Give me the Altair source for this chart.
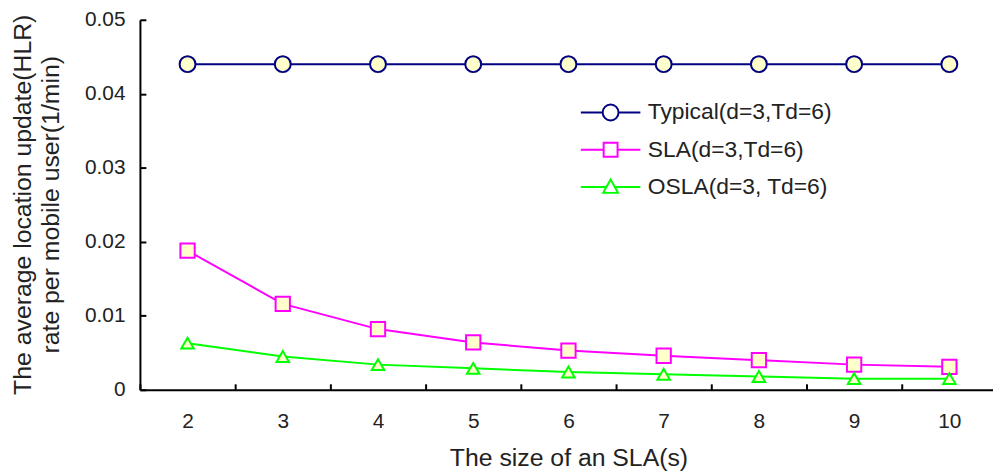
import altair as alt
import pandas as pd

# ---- data ----
sla_sizes = [2, 3, 4, 5, 6, 7, 8, 9, 10]
series_names = ["Typical(d=3,Td=6)", "SLA(d=3,Td=6)", "OSLA(d=3, Td=6)"]
typical_rate = [0.044, 0.044, 0.044, 0.044, 0.044, 0.044, 0.044, 0.044, 0.044]
sla_rate = [0.0188, 0.0116, 0.0082, 0.0064, 0.0053, 0.0046, 0.0040, 0.0034, 0.0031]
osla_rate = [0.0063, 0.0045, 0.0034, 0.0029, 0.0024, 0.0021, 0.0018, 0.0015, 0.0015]
y_ticks = [0, 0.01, 0.02, 0.03, 0.04, 0.05]

# ---- styling ----
series_colors = ["#000080", "#ff00ff", "#00ff00"]
marker_shapes = ["circle", "square", "triangle-up"]
marker_sizes = [256, 160, 170]
marker_fill = "#ffffcc"
FONT = "Liberation Sans"
TEXT = "#222222"

# legend symbols: a line segment with the marker in the middle (unit = 10px)
legend_paths = [
    "M-3,0H-0.8M0.8,0H3M-0.8,0A0.8,0.8,0,1,1,0.8,0A0.8,0.8,0,1,1,-0.8,0Z",
    "M-3,0H-0.7M0.7,0H3M-0.7,-0.7H0.7V0.7H-0.7Z",
    "M-3,0H-0.42M0.42,0H3M0,-0.75L0.75,0.6L-0.75,0.6Z",
]

rows = []
for name, vals in zip(series_names, [typical_rate, sla_rate, osla_rate]):
    for s, v in zip(sla_sizes, vals):
        rows.append({"size": s, "rate": v, "series": name})
df = pd.DataFrame(rows)

x_enc = alt.X(
    "size:O",
    title="The size of an SLA(s)",
    bandPosition=0.5,
    scale=alt.Scale(type="band", paddingInner=0, paddingOuter=0),
    axis=alt.Axis(
        labelAngle=0,
        tickBand="extent",
        tickSize=alt.ExprRef(expr="-6"),
        labelPadding=44,
        labelBaseline="alphabetic",
        titleBaseline="alphabetic",
        titleY=76,
        grid=False,
    ),
)
y_enc = alt.Y(
    "rate:Q",
    title=["The average location update(HLR)", "rate per mobile user(1/min)"],
    scale=alt.Scale(domain=[0, 0.05], nice=False),
    axis=alt.Axis(
        values=y_ticks,
        format=".2~f",
        grid=False,
        tickSize=alt.ExprRef(expr="-6"),
        labelPadding=21,
        titleAngle=-90,
        titleAlign="center",
        titleBaseline="middle",
        titleX=-118,
        titleY=186,
        titleLineHeight=28,
    ),
)

lines = alt.Chart(df).mark_line(strokeWidth=2).encode(
    x=x_enc,
    y=y_enc,
    stroke=alt.Stroke("series:N", scale=alt.Scale(domain=series_names, range=series_colors), legend=None),
    detail="series:N",
)
points = alt.Chart(df).mark_point(filled=True, fill=marker_fill, strokeWidth=2, opacity=1).encode(
    x=x_enc,
    y=y_enc,
    stroke=alt.Stroke("series:N", scale=alt.Scale(domain=series_names, range=series_colors), legend=None),
    shape=alt.Shape("series:N", scale=alt.Scale(domain=series_names, range=marker_shapes), legend=None),
    size=alt.Size("series:N", scale=alt.Scale(domain=series_names, range=marker_sizes), legend=None),
)

# invisible layers that only carry the legend entries (line + marker symbols)
legend_layers = []
for i, (name, color, path) in enumerate(zip(series_names, series_colors, legend_paths)):
    leg = alt.Legend(
        title=None,
        orient="none",
        legendX=463,
        legendY=82 + 37.5 * i,
        padding=0,
        symbolType=path,
        symbolSize=400,
        symbolOpacity=1,
        symbolFillColor=marker_fill,
        symbolStrokeColor=color,
        symbolStrokeWidth=2,
        labelOffset=26,
        labelLimit=0,
        labelFont=FONT,
        labelFontSize=23,
        labelColor=TEXT,
    )
    legend_layers.append(
        alt.Chart(df)
        .transform_filter(alt.datum.series == name)
        .mark_point(opacity=0)
        .encode(
            x=x_enc,
            y=y_enc,
            stroke=alt.Stroke("series:N", scale=alt.Scale(domain=[name], range=[color]), legend=leg),
        )
    )

chart = (
    alt.layer(lines, points, *legend_layers)
    .resolve_scale(stroke="independent")
    .resolve_legend(stroke="independent")
    .properties(
        width=864,
        height=373,
        autosize=alt.AutoSizeParams(type="none"),
        padding={"left": 133, "top": 10, "right": -4, "bottom": 80},
        background="white",
    )
    .configure_view(stroke=None)
    .configure_axis(
        domainColor="black",
        domainWidth=2,
        tickColor="black",
        tickWidth=2,
        labelFont=FONT,
        labelFontSize=21,
        labelColor=TEXT,
        titleFont=FONT,
        titleFontSize=25,
        titleFontWeight="normal",
        titleColor=TEXT,
    )
)

chart.save("out.html", embed_options={"renderer": "svg", "actions": False})
